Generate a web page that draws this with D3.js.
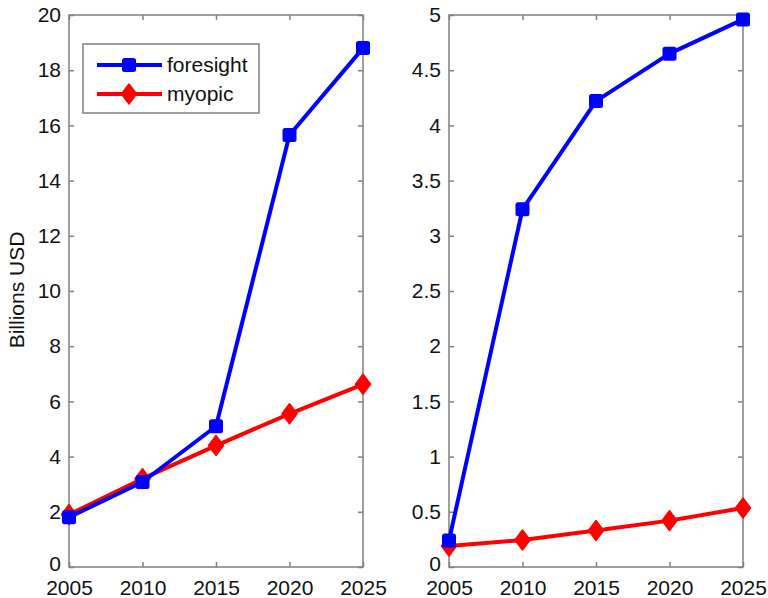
<!DOCTYPE html>
<html>
<head>
<meta charset="utf-8">
<script src="https://cdn.jsdelivr.net/npm/d3@7"></script>
<style>
  body { margin: 0; background: #fff; }
  text { font-family: "Liberation Sans", Arial, sans-serif; }
</style>
</head>
<body>
<div id="wrapper"></div>
<script>
const years = [2005, 2010, 2015, 2020, 2025];
const leftForesight = [1.8, 3.08, 5.1, 15.65, 18.8];
const leftMyopic = [1.9, 3.2, 4.4, 5.55, 6.62];
const rightForesight = [0.24, 3.24, 4.22, 4.65, 4.96];
const rightMyopic = [0.19, 0.245, 0.33, 0.42, 0.535];
const leftTicks = [0, 2, 4, 6, 8, 10, 12, 14, 16, 18, 20];
const rightTicks = [0, 0.5, 1, 1.5, 2, 2.5, 3, 3.5, 4, 4.5, 5];
const seriesNames = ["foresight", "myopic"];
const seriesColors = ["#0000ff", "#ff0000"];

const width = 768, height = 598;
const plotTop = 15, plotBottom = 567;
const axisColor = "#808080";
const fontSize = 21;

const svg = d3.select("#wrapper").append("svg")
    .attr("width", width)
    .attr("height", height);

function drawPanel(x0, x1, yMax, ticks, foresight, myopic) {
    const xScale = d3.scaleLinear().domain([2005, 2025]).range([x0, x1]);
    const yScale = d3.scaleLinear().domain([0, yMax]).range([plotBottom, plotTop]);
    const g = svg.append("g");

    // box
    g.append("rect")
        .attr("x", x0).attr("y", plotTop)
        .attr("width", x1 - x0).attr("height", plotBottom - plotTop)
        .attr("fill", "none").attr("stroke", axisColor).attr("stroke-width", 1.5);

    // ticks (inward, mirrored)
    const tl = 5;
    const yAxisL = d3.axisLeft(yScale).tickValues(ticks).tickSize(-tl).tickPadding(8)
        .tickFormat(d3.format("~g"));
    const yAxisR = d3.axisRight(yScale).tickValues(ticks).tickSize(-tl).tickFormat("");
    const xAxisB = d3.axisBottom(xScale).tickValues(years).tickSize(-tl).tickPadding(13)
        .tickFormat(d3.format("d"));
    const xAxisT = d3.axisTop(xScale).tickValues(years).tickSize(-tl).tickFormat("");

    const ax = [
        g.append("g").attr("transform", `translate(${x0},0)`).call(yAxisL),
        g.append("g").attr("transform", `translate(${x1},0)`).call(yAxisR),
        g.append("g").attr("transform", `translate(0,${plotBottom})`).call(xAxisB),
        g.append("g").attr("transform", `translate(0,${plotTop})`).call(xAxisT)
    ];
    ax.forEach(a => {
        a.select(".domain").remove();
        a.selectAll(".tick line").attr("stroke", axisColor).attr("stroke-width", 1.5);
        a.selectAll(".tick text")
            .attr("fill", "#111")
            .style("font-size", fontSize + "px")
            .style("font-family", "'Liberation Sans', Arial, sans-serif");
    });
    // the zero label sits a little above the corner, clear of the year labels
    ax[0].selectAll(".tick text").filter(d => d === 0).attr("y", -3);

    const line = d3.line()
        .x((d, i) => xScale(years[i]))
        .y(d => yScale(d));

    drawSeries(g, myopic, seriesColors[1], "diamond", line, xScale, yScale);
    drawSeries(g, foresight, seriesColors[0], "square", line, xScale, yScale);
    return g;
}

function marker(sel, type, color) {
    if (type === "square") {
        sel.append("rect")
            .attr("x", -7).attr("y", -7)
            .attr("width", 14).attr("height", 14)
            .attr("rx", 2.5)
            .attr("fill", color);
    } else {
        sel.append("path")
            .attr("d", "M0,-10 L7.5,0 L0,10 L-7.5,0 Z")
            .attr("fill", color)
            .attr("stroke", color).attr("stroke-width", 1.5)
            .attr("stroke-linejoin", "round");
    }
}

function drawSeries(g, values, color, type, line, xScale, yScale) {
    g.append("path")
        .datum(values)
        .attr("d", line)
        .attr("fill", "none")
        .attr("stroke", color)
        .attr("stroke-width", 4)
        .attr("stroke-linejoin", "round");
    g.selectAll(null)
        .data(values)
        .join("g")
        .attr("transform", (d, i) => `translate(${xScale(years[i])},${yScale(d)})`)
        .each(function () { marker(d3.select(this), type, color); });
}

drawPanel(69, 363, 20, leftTicks, leftForesight, leftMyopic);
drawPanel(449, 743, 5, rightTicks, rightForesight, rightMyopic);

// y label
svg.append("text")
    .attr("transform", `translate(24,${(plotTop + plotBottom) / 2 - 1}) rotate(-90)`)
    .attr("text-anchor", "middle")
    .attr("fill", "#111")
    .style("font-size", fontSize + "px")
    .text("Billions USD");

// legend
const legend = svg.append("g");
legend.append("rect")
    .attr("x", 83).attr("y", 44)
    .attr("width", 176).attr("height", 69)
    .attr("fill", "#fff")
    .attr("stroke", axisColor).attr("stroke-width", 1.5);
const legendRows = [65, 94];
seriesNames.forEach((name, i) => {
    const y = legendRows[i];
    const row = legend.append("g");
    row.append("line")
        .attr("x1", 97).attr("x2", 162)
        .attr("y1", y).attr("y2", y)
        .attr("stroke", seriesColors[i]).attr("stroke-width", 4);
    const m = row.append("g").attr("transform", `translate(129,${y})`);
    marker(m, i === 0 ? "square" : "diamond", seriesColors[i]);
    row.append("text")
        .attr("x", 167).attr("y", y)
        .attr("dy", "0.35em")
        .attr("fill", "#111")
        .style("font-size", fontSize + "px")
        .text(name);
});
</script>
</body>
</html>
